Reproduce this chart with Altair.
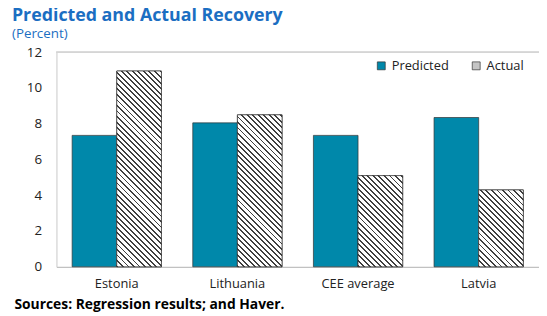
import altair as alt
import pandas as pd

countries = ["Estonia", "Lithuania", "CEE average", "Latvia"]
predicted = [7.35, 8.05, 7.35, 8.35]
actual = [10.95, 8.5, 5.1, 4.3]
series = ["Predicted", "Actual"]
y_ticks = [0, 2, 4, 6, 8, 10, 12]

rows = []
for c, p, a in zip(countries, predicted, actual):
    rows.append({"country": c, "series": "Predicted", "value": p})
    rows.append({"country": c, "series": "Actual", "value": a})
df = pd.DataFrame(rows)

W, H = 488, 217
YMAX = 12
PAD_IN, PAD_OUT = 0.26, 0.13
FONT = "Open Sans"
TEAL = "#0088aa"
BLUE = "#1b6ec2"

step = W / (len(countries) - PAD_IN + 2 * PAD_OUT)
bar_w = step * (1 - PAD_IN) / 2


def hatch(value, period=5.6, dark_frac=0.34, dark="#404040", light="#ffffff"):
    w = bar_w
    h = value / YMAX * H
    s = (w + h) / (w * w + h * h)
    n = (w + h) / period
    stops = []
    k = 0
    while k / n < 1:
        o0 = k / n
        o1 = min(1.0, (k + dark_frac) / n)
        o2 = min(1.0, (k + 1) / n)
        stops += [
            {"offset": o0, "color": dark},
            {"offset": o1, "color": dark},
            {"offset": o1, "color": light},
            {"offset": o2, "color": light},
        ]
        k += 1
    return {
        "gradient": "linear",
        "x1": 0, "y1": 1,
        "x2": s * w, "y2": 1 - s * h,
        "stops": stops,
    }


y_axis = alt.Axis(
    title=None, values=y_ticks, tickCount=len(y_ticks), grid=False, tickSize=0,
    labelPadding=15, labelOverlap=False, labelFlush=False,
    domainColor="#c8c8c8", labelFontSize=13.5, labelColor="#222222",
    labelFont=FONT,
)

x_enc = alt.X(
    "country:N",
    sort=countries,
    scale=alt.Scale(paddingInner=PAD_IN, paddingOuter=PAD_OUT),
    axis=alt.Axis(
        title="Sources: Regression results; and Haver.",
        titleX=-43, titleY=42, titleAlign="left", titleAnchor="start",
        titleBaseline="alphabetic", titleFontWeight="bold", titleFontSize=14,
        titleColor="#000000", titleFont=FONT,
        labelAngle=0, labelPadding=11, tickSize=0, domainColor="#b0b0b0",
        labelFontSize=13, labelColor="#222222", labelFont=FONT,
    ),
)
xo_enc = alt.XOffset("series:N", sort=series, scale=alt.Scale(domain=series))
y_enc = alt.Y("value:Q", scale=alt.Scale(domain=[0, YMAX], nice=False), axis=y_axis)

base = alt.Chart(df).mark_bar(stroke="#333333", strokeWidth=0.7).encode(
    x=x_enc,
    xOffset=xo_enc,
    y=y_enc,
    color=alt.Color(
        "series:N",
        scale=alt.Scale(domain=series, range=[TEAL, "#c4c4c4"]),
        legend=alt.Legend(
            title=None, orient="none", legendX=322, legendY=7,
            direction="horizontal", symbolType="square", symbolSize=64,
            symbolStrokeColor="#333333", symbolStrokeWidth=0.7,
            labelFontSize=13, labelFont=FONT, labelColor="#222222",
            columnPadding=21, labelOffset=4,
        ),
    ),
)

layers = [base]
for c, a in zip(countries, actual):
    layers.append(
        alt.Chart(df)
        .transform_filter((alt.datum.country == c) & (alt.datum.series == "Actual"))
        .mark_bar(fill=hatch(a), stroke="#333333", strokeWidth=0.7)
        .encode(x=x_enc, xOffset=xo_enc, y=y_enc)
    )

frame = alt.Chart(df).mark_rule(color="#d6d6d6", strokeWidth=1).encode(
    y=alt.value(0), x=alt.value(0), x2=alt.value(W)
)
layers.append(frame)

chart = (
    alt.layer(*layers)
    .properties(
        width=W,
        height=H,
        padding={"left": 49, "top": 43, "right": 0, "bottom": 47},
        autosize=alt.AutoSizeParams(type="none"),
        title=alt.Title(
            "Predicted and Actual Recovery",
            subtitle="(Percent)",
            anchor="start", frame="group", dx=-45, offset=5,
            font=FONT, fontSize=18, fontWeight="bold", color=BLUE,
            subtitleFont=FONT, subtitleFontSize=13.5, subtitleColor=BLUE,
            subtitlePadding=2,
        ),
    )
    .configure_view(stroke=None)
)

chart.save("out.html", embed_options={"renderer": "svg", "actions": False})
